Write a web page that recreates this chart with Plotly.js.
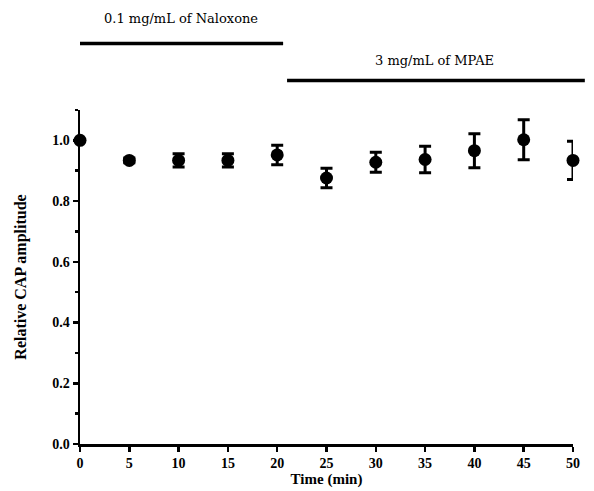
<!DOCTYPE html>
<html>
<head>
<meta charset="utf-8">
<script src="https://cdn.plot.ly/plotly-3.0.1.min.js"></script>
<style>html,body{margin:0;padding:0;background:#fff;}#chart{width:594px;height:491px;}</style>
</head>
<body>
<div id="chart"></div>
<script>
const timeMin = [0, 5, 10, 15, 20, 25, 30, 35, 40, 45, 50];
const relCAP = [1.0, 0.934, 0.934, 0.934, 0.952, 0.876, 0.928, 0.937, 0.966, 1.002, 0.934];
const semErr = [0.0, 0.008, 0.022, 0.022, 0.032, 0.032, 0.033, 0.044, 0.056, 0.066, 0.063];
const xTicks = [0, 5, 10, 15, 20, 25, 30, 35, 40, 45, 50];
const yTicks = [0.0, 0.2, 0.4, 0.6, 0.8, 1.0];
const naloxoneLabel = "0.1 mg/mL of Naloxone";
const mpaeLabel = "3 mg/mL of MPAE";

const serif = "Liberation Serif, Times New Roman, serif";

const trace = {
  x: timeMin, y: relCAP, type: "scatter", mode: "markers",
  marker: {color: "#000", size: 13, symbol: "circle"},
  error_y: {type: "data", array: semErr, visible: true, color: "#000", thickness: 3, width: 6},
  cliponaxis: false, showlegend: false
};

const layout = {
  width: 594, height: 491,
  margin: {l: 80, r: 21, t: 110, b: 47},
  paper_bgcolor: "#fff", plot_bgcolor: "#fff",
  font: {family: serif, color: "#000"},
  xaxis: {
    range: [0, 50], tickvals: xTicks, ticktext: xTicks.map(String),
    showgrid: false, zeroline: false, showline: true, linecolor: "#000", linewidth: 2.5,
    ticks: "outside", ticklen: 5, tickwidth: 2.5, tickcolor: "#000",
    tickfont: {family: serif, size: 14, color: "#000", weight: "bold"},
    title: {text: "<b>Time (min)</b>", font: {family: serif, size: 15, color: "#000"}, standoff: 0}
  },
  yaxis: {
    range: [0, 1.1], tickvals: yTicks, tickformat: ".1f",
    showgrid: false, zeroline: false, showline: true, linecolor: "#000", linewidth: 2.5,
    ticks: "outside", ticklen: 5, tickwidth: 2.5, tickcolor: "#000",
    tickfont: {family: serif, size: 14, color: "#000", weight: "bold"},
    minor: {dtick: 0.1, ticks: "outside", ticklen: 3, tickwidth: 2.5, tickcolor: "#000", showgrid: false},
    title: {text: "<b>Relative CAP amplitude</b>", font: {family: serif, size: 16, color: "#000"}, standoff: 22}
  },
  shapes: [
    {type: "line", xref: "paper", yref: "paper", x0: 0, x1: 0.412, y0: 1.199, y1: 1.199, line: {color: "#000", width: 3.5}},
    {type: "line", xref: "paper", yref: "paper", x0: 0.42, x1: 1.024, y0: 1.088, y1: 1.088, line: {color: "#000", width: 3.5}}
  ],
  annotations: [
    {text: naloxoneLabel, xref: "paper", yref: "paper", x: 0.204, y: 1.274, xanchor: "center", yanchor: "middle", showarrow: false, font: {family: "DejaVu Serif, serif", size: 13, color: "#000"}},
    {text: mpaeLabel, xref: "paper", yref: "paper", x: 0.72, y: 1.148, xanchor: "center", yanchor: "middle", showarrow: false, font: {family: "DejaVu Serif, serif", size: 13, color: "#000"}}
  ]
};

Plotly.newPlot("chart", [trace], layout, {displayModeBar: false, staticPlot: true});
</script>
</body>
</html>
